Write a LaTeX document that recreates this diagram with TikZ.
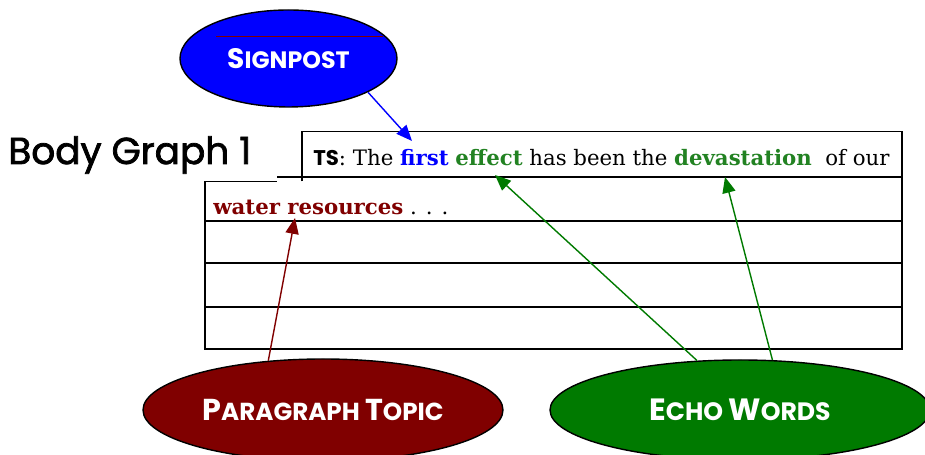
\documentclass[tikz,border=0pt]{standalone}
\usepackage{fontspec}
\setmainfont{DejaVu Serif}
\setsansfont{Poppins}
\newfontfamily\headfont{Poppins}[FakeBold=2]
\usetikzlibrary{shapes.geometric,arrows.meta}

\definecolor{signblue}{RGB}{0,0,255}
\definecolor{topicred}{RGB}{128,0,0}
\definecolor{echogreen}{RGB}{0,122,0}
\definecolor{wordgreen}{RGB}{34,130,34}

% fake small caps: big first letter, smaller rest
\newcommand{\fakesc}[4]{{\fontsize{#1}{#1}\selectfont #3}{\fontsize{#2}{#2}\selectfont #4}}

\begin{document}
\begin{tikzpicture}[
    bubble/.style={ellipse, draw=black, line width=0.8pt, text=white, inner sep=0pt, font=\sffamily\bfseries},
    pointer/.style={-{Triangle[length=9pt,width=7.5pt]}, line width=0.8pt},
    rule/.style={line width=0.85pt}
]

    % page frame
    \useasboundingbox (0,0) rectangle (18.5,9.1);
    \clip (0,0) rectangle (18.5,9.1);

    % the ruled sheet
    \draw[rule] (6.04,5.47) -- (6.04,6.47) -- (18.04,6.47) -- (18.04,2.12) -- (4.10,2.12) -- (4.10,5.47) -- (5.54,5.47);
    \draw[rule] (5.54,5.56) -- (18.04,5.56);
    \foreach \y in {4.68,3.84,2.96}
        \draw[rule] (4.10,\y) -- (18.04,\y);

    % heading
    \node[anchor=base west, inner sep=0pt, font=\headfont\fontsize{21.3}{26}\selectfont] (title) at (0.16,5.82) {Body Graph 1};

    % the two written lines
    \node[anchor=base west, inner sep=0pt, font=\fontsize{12.1}{15}\selectfont] (line1) at (6.26,5.79)
        {{\sffamily\bfseries TS}: The {\bfseries\color{signblue}first} {\bfseries\color{wordgreen}effect} has been the {\bfseries\color{wordgreen}devastation}\ \ of our};
    \node[anchor=base west, inner sep=0pt, font=\fontsize{12.1}{15}\selectfont] (line2) at (4.26,4.80)
        {{\bfseries\color{topicred}water resources} . . .};

    % the three bubbles
    \node[bubble, fill=signblue, minimum width=4.34cm, minimum height=1.94cm] (signpost) at (5.77,7.93)
        {\fakesc{16}{13.5}{S}{IGNPOST}};
    \draw[topicred, line width=0.4pt] (4.32,8.38) -- (7.66,8.38); % stray line in the bubble
    \node[bubble, fill=topicred, minimum width=7.2cm, minimum height=2.04cm] (topic) at (6.46,0.90)
        {\fakesc{17.2}{14}{P}{ARAGRAPH}\hspace{0.3em}\fakesc{17.2}{14}{T}{OPIC}};
    \node[bubble, fill=echogreen, minimum width=7.6cm, minimum height=2.0cm] (echo) at (14.80,0.90)
        {\fakesc{17.5}{14.3}{E}{CHO}\hspace{0.3em}\fakesc{17.5}{14.3}{W}{ORDS}};

    % where the arrows land
    \coordinate (firstTip) at (8.24,6.28);
    \coordinate (effectTip) at (9.90,5.60);
    \coordinate (devTip) at (14.50,5.56);
    \coordinate (waterTip) at (5.90,4.74);

    % arrows
    \draw[pointer, signblue] (signpost.-23) -- (firstTip);
    \draw[pointer, topicred] (topic.138) -- (waterTip);
    \draw[pointer, echogreen] (echo.131) -- (effectTip);
    \draw[pointer, echogreen] (echo.57) -- (devTip);

\end{tikzpicture}
\end{document}
